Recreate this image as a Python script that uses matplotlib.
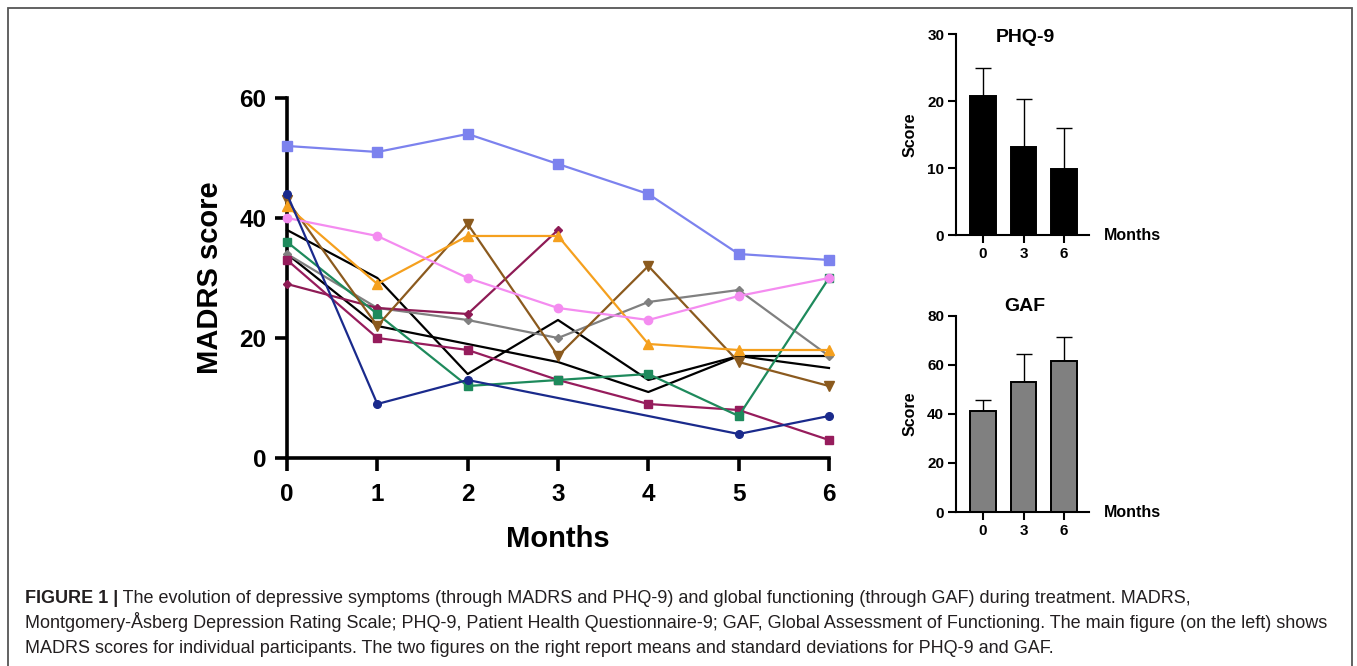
import numpy as np
import matplotlib
matplotlib.use("Agg")
import matplotlib.pyplot as plt
from matplotlib.patches import Rectangle

plt.rcParams["font.family"] = ["Liberation Sans", "DejaVu Sans"]

# MADRS scores per participant (None = not measured)
months = [0, 1, 2, 3, 4, 5, 6]
p_lightblue = [52, 51, 54, 49, 44, 34, 33]
p_navy = [44, 9, 13, None, None, 4, 7]
p_pink = [40, 37, 30, 25, 23, 27, 30]
p_orange = [42, 29, 37, 37, 19, 18, 18]
p_brown = [43, 22, 39, 17, 32, 16, 12]
p_plum = [29, 25, 24, 38, None, None, None]
p_gray = [34, 25, 23, 20, 26, 28, 17]
p_green = [36, 24, 12, 13, 14, 7, 30]
p_maroon = [33, 20, 18, 13, 9, 8, 3]
p_black1 = [38, 30, 14, 23, 13, 17, 17]
p_black2 = [34, 22, 19, 16, 11, 17, 15]

# PHQ-9 and GAF means / SD at months 0, 3, 6
bar_months = ["0", "3", "6"]
phq_mean = [20.8, 13.1, 9.8]
phq_sd = [4.1, 7.2, 6.2]
gaf_mean = [41.0, 53.0, 61.6]
gaf_sd = [4.8, 11.3, 9.6]

series = [
    (p_black1, "#000000", None, 0),
    (p_black2, "#000000", None, 0),
    (p_gray, "#808080", "D", 4.5),
    (p_plum, "#8e1b55", "D", 4.5),
    (p_maroon, "#961c5c", "s", 6),
    (p_green, "#1e8a5c", "s", 6),
    (p_brown, "#8b5a1e", "v", 6.5),
    (p_orange, "#f5a01e", "^", 6.5),
    (p_pink, "#f48cf0", "o", 6),
    (p_navy, "#1a2a8c", "o", 5.5),
    (p_lightblue, "#7c82ee", "s", 6.5),
]

fig = plt.figure(figsize=(13.57, 6.66), dpi=100)

# main MADRS panel
ax = fig.add_axes([0.2115, 0.3123, 0.3994, 0.5406])
for vals, col, mk, ms in series:
    xs = [m for m, v in zip(months, vals) if v is not None]
    ys = [v for v in vals if v is not None]
    ax.plot(xs, ys, color=col, lw=1.6, marker=mk, ms=ms, clip_on=False, zorder=3)

ax.set_xlim(0, 6)
ax.set_ylim(0, 60)
ax.set_xticks(months)
ax.set_yticks([0, 20, 40, 60])
for s in ["top", "right"]:
    ax.spines[s].set_visible(False)
for s in ["left", "bottom"]:
    ax.spines[s].set_linewidth(2.6)
ax.tick_params(axis="both", length=9, width=2.6, labelsize=17.5)
ax.tick_params(axis="x", pad=9)
ax.tick_params(axis="y", pad=6)
for lab in ax.get_xticklabels() + ax.get_yticklabels():
    lab.set_fontweight("bold")
ax.set_xlabel("Months", fontsize=21, fontweight="bold")
ax.set_ylabel("MADRS score", fontsize=21, fontweight="bold")
ax.xaxis.set_label_coords(0.5, -0.185)
ax.yaxis.set_label_coords(-0.116, 0.5)


def bar_panel(rect, means, sds, color, yticks, title, title_y):
    a = fig.add_axes(rect)
    x = np.arange(len(means))
    a.bar(x, means, width=0.64, color=color, edgecolor="black", linewidth=1.4, zorder=2)
    a.errorbar(x, means, yerr=[[0] * len(sds), sds], fmt="none", ecolor="black",
               elinewidth=1.0, capsize=6, capthick=1.0, zorder=1)
    a.set_xlim(-0.667, 2.617)
    a.set_ylim(yticks[0], yticks[-1])
    a.set_yticks(yticks)
    a.set_xticks(x)
    a.set_xticklabels(bar_months)
    for s in ["top", "right"]:
        a.spines[s].set_visible(False)
    for s in ["left", "bottom"]:
        a.spines[s].set_linewidth(1.5)
    a.tick_params(axis="both", length=5.5, width=1.5, labelsize=11, pad=3)
    for lab in a.get_xticklabels() + a.get_yticklabels():
        lab.set_fontweight("bold")
    a.set_ylabel("Score", fontsize=11.5, fontweight="bold")
    a.yaxis.set_label_coords(-0.29, 0.5)
    a.text(0.52, title_y, title, transform=a.transAxes, ha="center", va="center",
           fontsize=14, fontweight="bold")
    a.text(1.11, 0.0, "Months", transform=a.transAxes, ha="left", va="center",
           fontsize=11.5, fontweight="bold")
    return a


bar_panel([0.7045, 0.6471, 0.098, 0.3014], phq_mean, phq_sd, "black",
          [0, 10, 20, 30], "PHQ-9", 0.985)
bar_panel([0.7045, 0.2312, 0.098, 0.2947], gaf_mean, gaf_sd, "#808080",
          [0, 20, 40, 60, 80], "GAF", 1.045)

# caption
W, H = fig.get_size_inches() * fig.dpi
x0 = 25 / W
fs = 13
t = fig.text(x0, 1 - 603 / H, "FIGURE 1 |", fontsize=fs, fontweight="bold",
             va="baseline", color="#231f20")
r = fig.canvas.get_renderer()
bb = t.get_window_extent(r)
fig.text(bb.x1 / W, 1 - 603 / H,
         " The evolution of depressive symptoms (through MADRS and PHQ-9) and global functioning "
         "(through GAF) during treatment. MADRS,",
         fontsize=fs, va="baseline", color="#231f20")
fig.text(x0, 1 - 628 / H,
         "Montgomery-Åsberg Depression Rating Scale; PHQ-9, Patient Health Questionnaire-9; GAF, "
         "Global Assessment of Functioning. The main figure (on the left) shows",
         fontsize=fs, va="baseline", color="#231f20")
fig.text(x0, 1 - 653 / H,
         "MADRS scores for individual participants. The two figures on the right report means "
         "and standard deviations for PHQ-9 and GAF.",
         fontsize=fs, va="baseline", color="#231f20")

# frame around the figure
fig.patches.append(Rectangle((8 / W, -0.05), 1352 / W - 8 / W, 1.05 - 8.5 / H,
                             transform=fig.transFigure, fill=False,
                             edgecolor="#555555", linewidth=1.3))

fig.savefig("out.png", dpi=100)
